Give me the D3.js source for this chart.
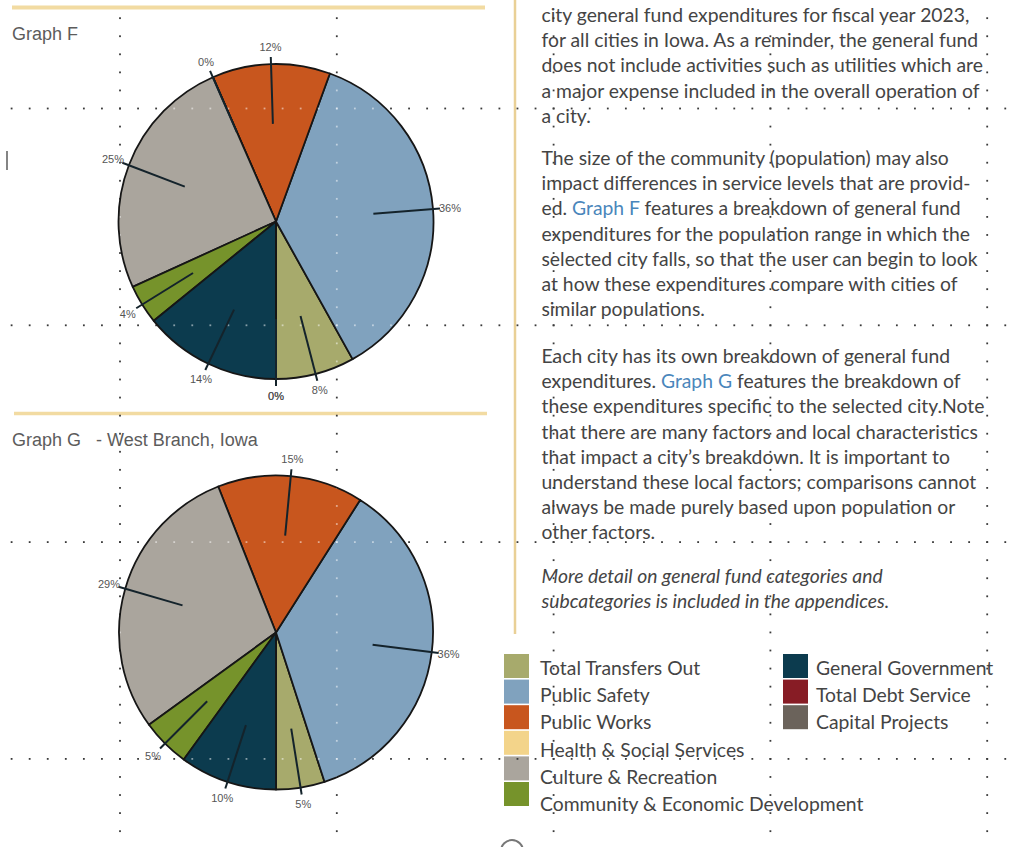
<!DOCTYPE html>
<html>
<head>
<meta charset="utf-8">
<script src="https://cdn.jsdelivr.net/npm/d3@7"></script>
<style>
  html, body { margin: 0; padding: 0; background: #fff; }
  svg { display: block; }
</style>
</head>
<body>
<svg id="page" width="1012" height="847"></svg>
<script>
// ---- data -------------------------------------------------------------
const categories = [
  "Total Transfers Out",
  "Public Safety",
  "Public Works",
  "Health & Social Services",
  "Culture & Recreation",
  "Community & Economic Development",
  "General Government",
  "Total Debt Service",
  "Capital Projects"
];
const categoryColors = [
  "#a7aa6c", "#80a2be", "#c8561e", "#f3d48a", "#aaa59d",
  "#76932b", "#0c3b4e", "#871c25", "#6b635b"
];
// share of general fund expenditures, percent (null = not reported)
const graphFValues = [8, 36, 12, 0, 25, 4, 14, 0, 0];
const graphGValues = [5, 36, 15, null, 29, 5, 10, null, null];

const graphFTitle = "Graph F";
const graphGTitle = "Graph G   - West Branch, Iowa";

// body copy; [..] marks a cross-reference link
const paragraphs = [
  { italic: false, lines: [
    "city general fund expenditures for fiscal year 2023,",
    "for all cities in Iowa. As a reminder, the general fund",
    "does not include activities such as utilities which are",
    "a major expense included in the overall operation of",
    "a city."
  ]},
  { italic: false, lines: [
    "The size of the community (population) may also",
    "impact differences in service levels that are provid-",
    "ed. [Graph F] features a breakdown of general fund",
    "expenditures for the population range in which the",
    "selected city falls, so that the user can begin to look",
    "at how these expenditures compare with cities of",
    "similar populations."
  ]},
  { italic: false, lines: [
    "Each city has its own breakdown of general fund",
    "expenditures. [Graph G] features the breakdown of",
    "these expenditures specific to the selected city.Note",
    "that there are many factors and local characteristics",
    "that impact a city\u2019s breakdown. It is important to",
    "understand these local factors; comparisons cannot",
    "always be made purely based upon population or",
    "other factors."
  ]},
  { italic: true, lines: [
    "More detail on general fund categories and",
    "subcategories is included in the appendices."
  ]}
];

// ---- layout -----------------------------------------------------------
const W = 1012, H = 847;
const svg = d3.select("#page");
const bodyFont = "Lato, 'Open Sans', sans-serif";
const textColor = "#444444";
const linkColor = "#4a86bb";
const gold = "#f2dba2";

svg.append("rect").attr("width", W).attr("height", H).attr("fill", "#fff");

// rules
svg.append("line").attr("x1", 12).attr("x2", 485).attr("y1", 7.5).attr("y2", 7.5)
  .attr("stroke", gold).attr("stroke-width", 4);
svg.append("line").attr("x1", 14).attr("x2", 487).attr("y1", 413.5).attr("y2", 413.5)
  .attr("stroke", gold).attr("stroke-width", 3.5);
svg.append("line").attr("x1", 515).attr("x2", 515).attr("y1", 0).attr("y2", 634)
  .attr("stroke", "#e9d096").attr("stroke-width", 2.5);

// stray marks at page edges
svg.append("line").attr("x1", 7).attr("x2", 7).attr("y1", 151).attr("y2", 170)
  .attr("stroke", "#666").attr("stroke-width", 1.6);
svg.append("circle").attr("cx", 512).attr("cy", 851).attr("r", 11)
  .attr("fill", "none").attr("stroke", "#777").attr("stroke-width", 2);

// titles
svg.append("text").attr("x", 12).attr("y", 40)
  .attr("font-family", "'Liberation Sans', Arial, sans-serif").attr("font-size", 18)
  .attr("fill", "#5c5c5c").style("white-space", "pre").text(graphFTitle);
svg.append("text").attr("x", 12).attr("y", 446)
  .attr("font-family", "'Liberation Sans', Arial, sans-serif").attr("font-size", 18)
  .attr("fill", "#5c5c5c").style("white-space", "pre").text(graphGTitle);

// ---- body text --------------------------------------------------------
// fit the column font size so the opening line spans the column measure
const probe = svg.append("text").attr("font-family", bodyFont).attr("font-size", 15)
  .text(paragraphs[0].lines[0]);
const bodySize = 15 * 428 / probe.node().getComputedTextLength();
probe.remove();

const paraTops = [14, 157, 355, 575];
const lineStep = 25.2;
const textX = 541.5;

function addLine(sel, str, x, y, italic) {
  const t = sel.append("text").attr("x", x).attr("y", y)
    .attr("dominant-baseline", "central")
    .attr("font-family", bodyFont).attr("font-size", bodySize)
    .attr("font-style", italic ? "italic" : "normal")
    .attr("fill", textColor).style("white-space", "pre");
  str.split(/(\[[^\]]+\])/).filter(s => s.length).forEach(seg => {
    const isLink = seg.startsWith("[");
    t.append("tspan").attr("fill", isLink ? linkColor : textColor)
      .text(isLink ? seg.slice(1, -1) : seg);
  });
  return t;
}

const textLayer = svg.append("g");
paragraphs.forEach((p, pi) => {
  p.lines.forEach((ln, li) => addLine(textLayer, ln, textX, paraTops[pi] + li * lineStep, p.italic));
});

// ---- legend -----------------------------------------------------------
const legendCols = [
  { swatchX: 504, textX: 540, items: [0, 1, 2, 3, 4, 5] },
  { swatchX: 783, textX: 816, items: [6, 7, 8] }
];
legendCols.forEach(col => {
  col.items.forEach((ci, row) => {
    svg.append("rect").attr("x", col.swatchX).attr("y", 654 + row * 25.6)
      .attr("width", 25).attr("height", 24).attr("fill", categoryColors[ci]);
    addLine(svg, categories[ci], col.textX, 667 + row * 27.2, false);
  });
});

// ---- guide dots (under the pies) --------------------------------------
const gridOrigin = { x: 120, y: 108.5 };
const gridStep = 216.8;
const dotGap = gridStep / 12;
const dots = [];
for (let i = 0; i < 5; i++) {
  const x = gridOrigin.x + i * gridStep;
  for (let k = -10; k < 60; k++) {
    const y = gridOrigin.y + k * dotGap;
    if (y > 2 && y < H - 1) dots.push([x, y]);
  }
}
for (let j = 0; j < 4; j++) {
  const y = gridOrigin.y + j * gridStep;
  for (let k = -10; k < 60; k++) {
    const x = gridOrigin.x + k * dotGap;
    if (x > 2 && x < W - 2) dots.push([x, y]);
  }
}
svg.append("g").selectAll("rect").data(dots).join("rect")
  .attr("x", d => d[0] - 0.9).attr("y", d => d[1] - 0.9)
  .attr("width", 1.8).attr("height", 1.8).attr("fill", "#3a3a3a");

// ---- pies -------------------------------------------------------------
const pieLayout = d3.pie().sort(null).value(d => d.value)
  .startAngle(Math.PI).endAngle(-Math.PI);   // counter-clockwise from 6 o'clock

function drawPie(values, cx, cy, r, clipId) {
  const data = categories.map((c, i) => ({ cat: c, value: values[i], color: categoryColors[i] }))
    .filter(d => d.value !== null);
  const arcs = pieLayout(data);
  const g = svg.append("g").attr("transform", `translate(${cx},${cy})`);
  const arc = d3.arc().innerRadius(0).outerRadius(r);

  g.selectAll("path.slice").data(arcs).join("path").attr("class", "slice")
    .attr("d", arc).attr("fill", d => d.data.color)
    .attr("stroke", "#161616").attr("stroke-width", 1.8).attr("stroke-linejoin", "round");

  const mid = d => (d.startAngle + d.endAngle) / 2;
  const pt = (a, rr) => [Math.sin(a) * rr, -Math.cos(a) * rr];

  // guide dots show lightly over the filled slices
  svg.append("clipPath").attr("id", clipId)
    .append("circle").attr("cx", cx).attr("cy", cy).attr("r", r - 1);
  svg.append("g").attr("clip-path", `url(#${clipId})`)
    .selectAll("rect").data(dots).join("rect")
    .attr("x", d => d[0] - 0.9).attr("y", d => d[1] - 0.9)
    .attr("width", 1.8).attr("height", 1.8).attr("fill", "#fff").attr("opacity", 0.5);

  const lg = svg.append("g").attr("transform", `translate(${cx},${cy})`);
  lg.selectAll("line").data(arcs).join("line")
    .attr("x1", d => pt(mid(d), r * 0.62)[0]).attr("y1", d => pt(mid(d), r * 0.62)[1])
    .attr("x2", d => pt(mid(d), r + 7)[0]).attr("y2", d => pt(mid(d), r + 7)[1])
    .attr("stroke", "#14232b").attr("stroke-width", 2);
  lg.selectAll("text").data(arcs).join("text")
    .attr("x", d => pt(mid(d), r + 17)[0]).attr("y", d => pt(mid(d), r + 17)[1])
    .attr("text-anchor", "middle").attr("dominant-baseline", "central")
    .attr("font-family", "'Liberation Sans', Arial, sans-serif").attr("font-size", 11)
    .attr("fill", "#555")
    .text(d => `${d.data.value}%`);
}

drawPie(graphFValues, 276, 221.5, 157.5, "clipF");
drawPie(graphGValues, 276, 632.5, 157, "clipG");
</script>
</body>
</html>
